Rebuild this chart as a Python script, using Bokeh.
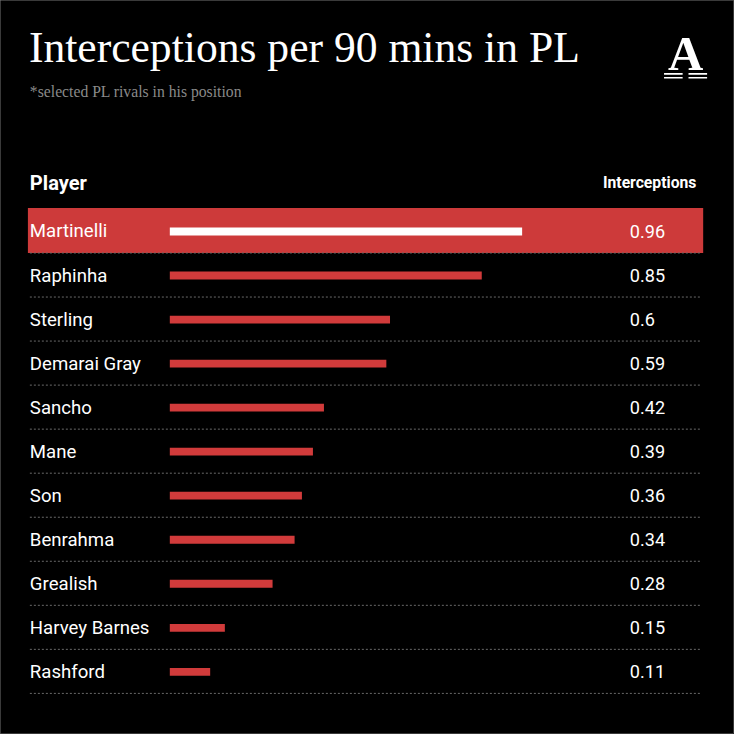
from bokeh.plotting import figure
from bokeh.models import Range1d, ColumnDataSource
from bokeh.embed import file_html
from bokeh.resources import INLINE
from bokeh.core.properties import value

players = ["Martinelli", "Raphinha", "Sterling", "Demarai Gray", "Sancho", "Mane",
           "Son", "Benrahma", "Grealish", "Harvey Barnes", "Rashford"]
interceptions = [0.96, 0.85, 0.6, 0.59, 0.42, 0.39, 0.36, 0.34, 0.28, 0.15, 0.11]
value_labels = ["0.96", "0.85", "0.6", "0.59", "0.42", "0.39", "0.36", "0.34", "0.28", "0.15", "0.11"]
highlight = "Martinelli"

W = H = 734
S = W / 750.0          # scale from 750px reference design
PXU = 375.0            # design px per unit value
ROW = 45.0             # design px per row

def dx(px):
    return (px - 173) / PXU

def dy(py):
    return (py - 236) / ROW

def fs(px):
    return f"{px * S:.1f}px"

p = figure(width=W, height=H, output_backend="svg", toolbar_location=None,
           x_range=Range1d(dx(0), dx(750)), y_range=Range1d(dy(750), dy(0)),
           min_border=0)
p.axis.visible = False
p.grid.visible = False
p.background_fill_color = "#000000"
p.border_fill_color = "#000000"
p.outline_line_color = "#3a3a3a"

idx = list(range(len(players)))
hl = [i for i, n in enumerate(players) if n == highlight]

# highlight band
p.quad(left=[dx(28)] * len(hl), right=[dx(718)] * len(hl),
       top=[i - 24 / ROW for i in hl], bottom=[i + 22 / ROW for i in hl],
       fill_color="#cd3a3a", line_color=None)

# separators
for i in idx:
    p.line([dx(30), dx(716)], [i + 22 / ROW, i + 22 / ROW], line_color="#6a6a6a",
           line_width=1, line_dash="2 2")

src = ColumnDataSource(dict(
    y=idx, v=interceptions, name=players, lab=value_labels,
    color=["#ffffff" if n == highlight else "#d13b3b" for n in players],
))
p.hbar(y="y", left=0, right="v", height=8 / ROW, fill_color="color", line_color=None, source=src)

p.text(x=dx(30), y="y", text="name", source=src, text_color="#ffffff",
       text_font=value("Roboto"), text_font_size=fs(19), text_baseline="middle")
p.text(x=dx(643), y="y", text="lab", source=src, text_color="#ffffff",
       text_font=value("Roboto"), text_font_size=fs(18.5), text_baseline="middle")

# headers
p.text(x=[dx(30)], y=[dy(186)], text=["Player"], text_color="#ffffff",
       text_font=value("Roboto"), text_font_style="bold", text_font_size=fs(20.5),
       text_baseline="middle")
p.text(x=[dx(711)], y=[dy(186)], text=["Interceptions"], text_color="#ffffff",
       text_font=value("Roboto"), text_font_style="bold", text_font_size=fs(16),
       text_baseline="middle", text_align="right")

# title & subtitle
p.text(x=[dx(29)], y=[dy(48)], text=["Interceptions per 90 mins in PL"], text_color="#ffffff",
       text_font=value("Liberation Serif"), text_font_size=fs(44.5), text_baseline="middle")
p.text(x=[dx(30)], y=[dy(93)], text=["*selected PL rivals in his position"], text_color="#8a8a8a",
       text_font=value("Liberation Serif"), text_font_size=fs(16), text_baseline="middle")

# logo
p.text(x=[dx(700)], y=[dy(54)], text=["A"], text_color="#ffffff",
       text_font=value("Liberation Serif"), text_font_style="bold", text_font_size=fs(50),
       text_baseline="middle", text_align="center")
for yy in (75, 79):
    p.line([dx(678), dx(697)], [dy(yy), dy(yy)], line_color="#ffffff", line_width=1.6)
    p.line([dx(703), dx(722)], [dy(yy), dy(yy)], line_color="#ffffff", line_width=1.6)

html = file_html(p, INLINE)
html = html.replace("<body>", '<body style="background:#000000;">', 1)
open("out.html", "w").write(html)
